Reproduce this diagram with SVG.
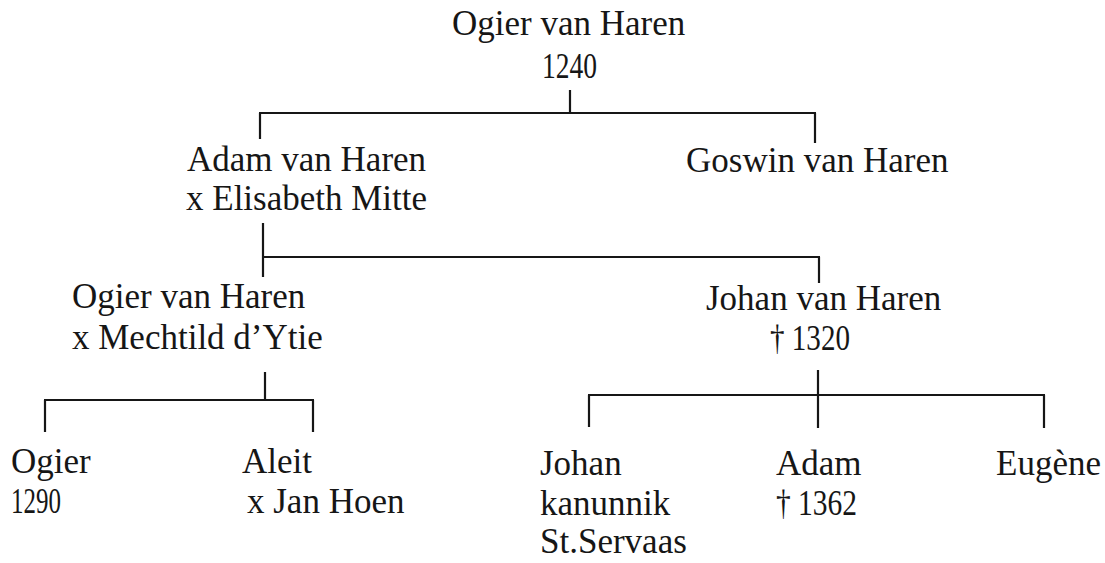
<svg xmlns="http://www.w3.org/2000/svg" width="1105" height="563" viewBox="0 0 1105 563">
<style>
text{font-family:"Liberation Serif","Times New Roman",serif;font-size:35px;fill:#161616}
.c path{stroke:#161616;stroke-width:2.2;fill:none}
</style>
<rect width="1105" height="563" fill="#ffffff"/>
<g class="c" id="connectors">
<path d="M570 90V113M259 113H816M260 113V139M815 113V143"/>
<path d="M263 223V277M262 257H820M819 257V283"/>
<path d="M265 372V400M44 400H314M45 400V432M313 400V432"/>
<path d="M818 370V428M588 395H1045M589 395V427M1044 395V428"/>
</g>
<g id="ogier1240"><text x="452" y="35">Ogier van Haren</text><text x="542" y="78" textLength="55" lengthAdjust="spacingAndGlyphs">1240</text></g>
<g id="adam"><text x="187" y="171">Adam van Haren</text><text x="186" y="210">x Elisabeth Mitte</text></g>
<g id="goswin"><text x="686" y="172">Goswin van Haren</text></g>
<g id="ogier2"><text x="72" y="308">Ogier van Haren</text><text x="72" y="349">x Mechtild d’Ytie</text></g>
<g id="johan1"><text x="706" y="310">Johan van Haren</text><text x="770" y="350" textLength="80" lengthAdjust="spacingAndGlyphs">† 1320</text></g>
<g id="ogier3"><text x="11" y="473">Ogier</text><text x="11" y="513" textLength="50" lengthAdjust="spacingAndGlyphs">1290</text></g>
<g id="aleit"><text x="242" y="473">Aleit</text><text x="247" y="513">x Jan Hoen</text></g>
<g id="johan2"><text x="540" y="475">Johan</text><text x="540" y="515">kanunnik</text><text x="540" y="553">St.Servaas</text></g>
<g id="adam2"><text x="776" y="475">Adam</text><text x="776" y="515" textLength="81" lengthAdjust="spacingAndGlyphs">† 1362</text></g>
<g id="eugene"><text x="996" y="475">Eugène</text></g>
</svg>
